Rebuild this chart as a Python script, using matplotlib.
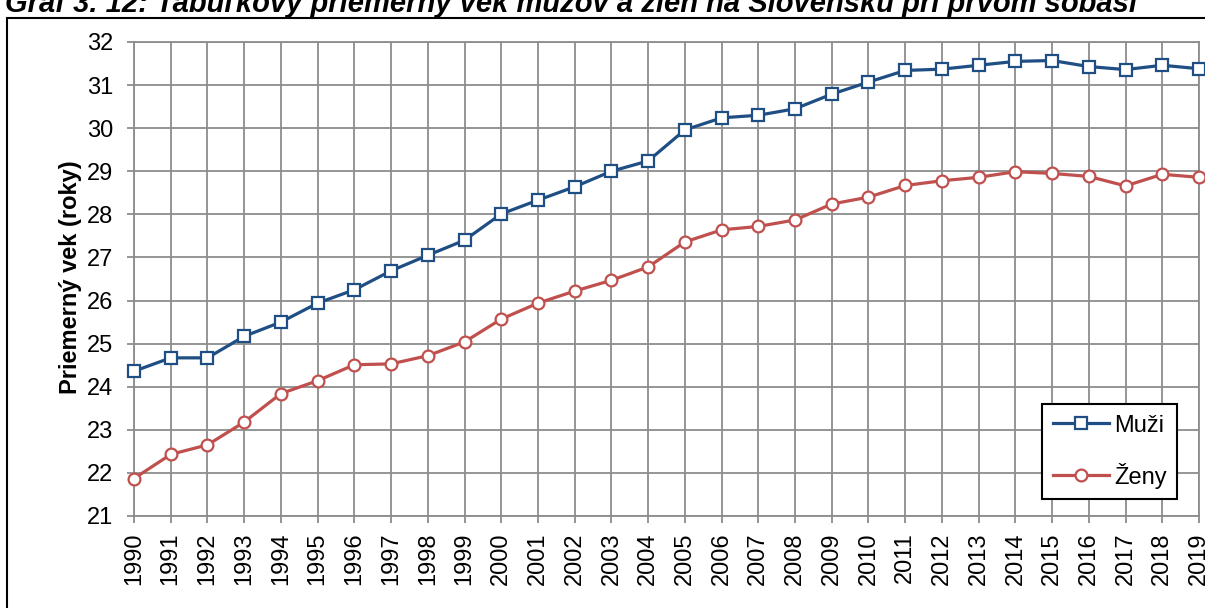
import matplotlib
matplotlib.use("Agg")
import matplotlib.pyplot as plt
from matplotlib.patches import Rectangle

plt.rcParams['font.family'] = ['Liberation Sans', 'DejaVu Sans']

years = list(range(1990, 2020))
muzi = [24.36, 24.67, 24.67, 25.17, 25.50, 25.94, 26.25, 26.69, 27.05, 27.40,
        28.01, 28.33, 28.64, 29.00, 29.24, 29.96, 30.24, 30.30, 30.45, 30.79,
        31.07, 31.34, 31.37, 31.46, 31.55, 31.57, 31.43, 31.36, 31.46, 31.38]
zeny = [21.87, 22.43, 22.65, 23.18, 23.84, 24.14, 24.51, 24.53, 24.72, 25.04,
        25.57, 25.94, 26.22, 26.47, 26.78, 27.36, 27.64, 27.72, 27.87, 28.24,
        28.40, 28.67, 28.78, 28.86, 28.99, 28.95, 28.88, 28.66, 28.93, 28.86]
y_ticks = list(range(21, 33))
series_labels = ["Muži", "Ženy"]
title = "Graf 3. 12: Tabuľkový priemerný vek mužov a žien na Slovensku pri prvom sobáši"
ylabel = "Priemerný vek (roky)"

W, H = 1205, 608
fig = plt.figure(figsize=(W / 100, H / 100), dpi=100)
ax = fig.add_axes([134 / W, 1 - 516 / H, 1065 / W, 474 / H])

grid_c = '#8c8c8c'
ax.plot(years, muzi, color='#1F4E85', lw=2.3, marker='s', ms=8.5,
        mfc='white', mec='#1F4E85', mew=1.6, label=series_labels[0], zorder=3, clip_on=False)
ax.plot(years, zeny, color='#C0504D', lw=2.3, marker='o', ms=8.5,
        mfc='white', mec='#C0504D', mew=1.6, label=series_labels[1], zorder=3, clip_on=False)

ax.set_xlim(years[0], years[-1])
ax.set_ylim(y_ticks[0], y_ticks[-1])
ax.set_xticks(years)
ax.set_xticklabels([str(y) for y in years], rotation=90, fontsize=17)
ax.set_yticks(y_ticks)
ax.set_yticklabels([str(v) for v in y_ticks], fontsize=17)
ax.grid(True, color=grid_c, lw=1.3)
ax.set_axisbelow(True)
for s in ax.spines.values():
    s.set_color(grid_c)
    s.set_linewidth(1.3)
ax.tick_params(axis='both', color=grid_c, width=1.3, length=5)
ax.tick_params(axis='y', pad=10)
ax.tick_params(axis='x', pad=7)

fig.text(71 / W, 1 - 277 / H, ylabel, rotation=90, ha='center', va='center',
         fontsize=17, fontweight='bold')

leg = ax.legend(loc='upper left', bbox_to_anchor=(1042 / W, 1 - 404 / H),
                bbox_transform=fig.transFigure, fontsize=17,
                frameon=True, fancybox=False, handlelength=2.4, handletextpad=0.2,
                labelspacing=1.1, borderpad=0.45, borderaxespad=0)
leg.get_frame().set_edgecolor('black')
leg.get_frame().set_linewidth(1.5)
leg.get_frame().set_facecolor('white')
leg.get_frame().set_alpha(1)

fig.text(5 / W, 1 - 12 / H, title, ha='left', va='baseline', fontsize=21,
         fontweight='bold', fontstyle='italic')

fig.patches.append(Rectangle((7 / W, -0.1), 1.2, 1 - 18 / H + 0.1, transform=fig.transFigure,
                             fill=False, edgecolor='black', lw=1.5))

fig.savefig('out.png', dpi=100)
